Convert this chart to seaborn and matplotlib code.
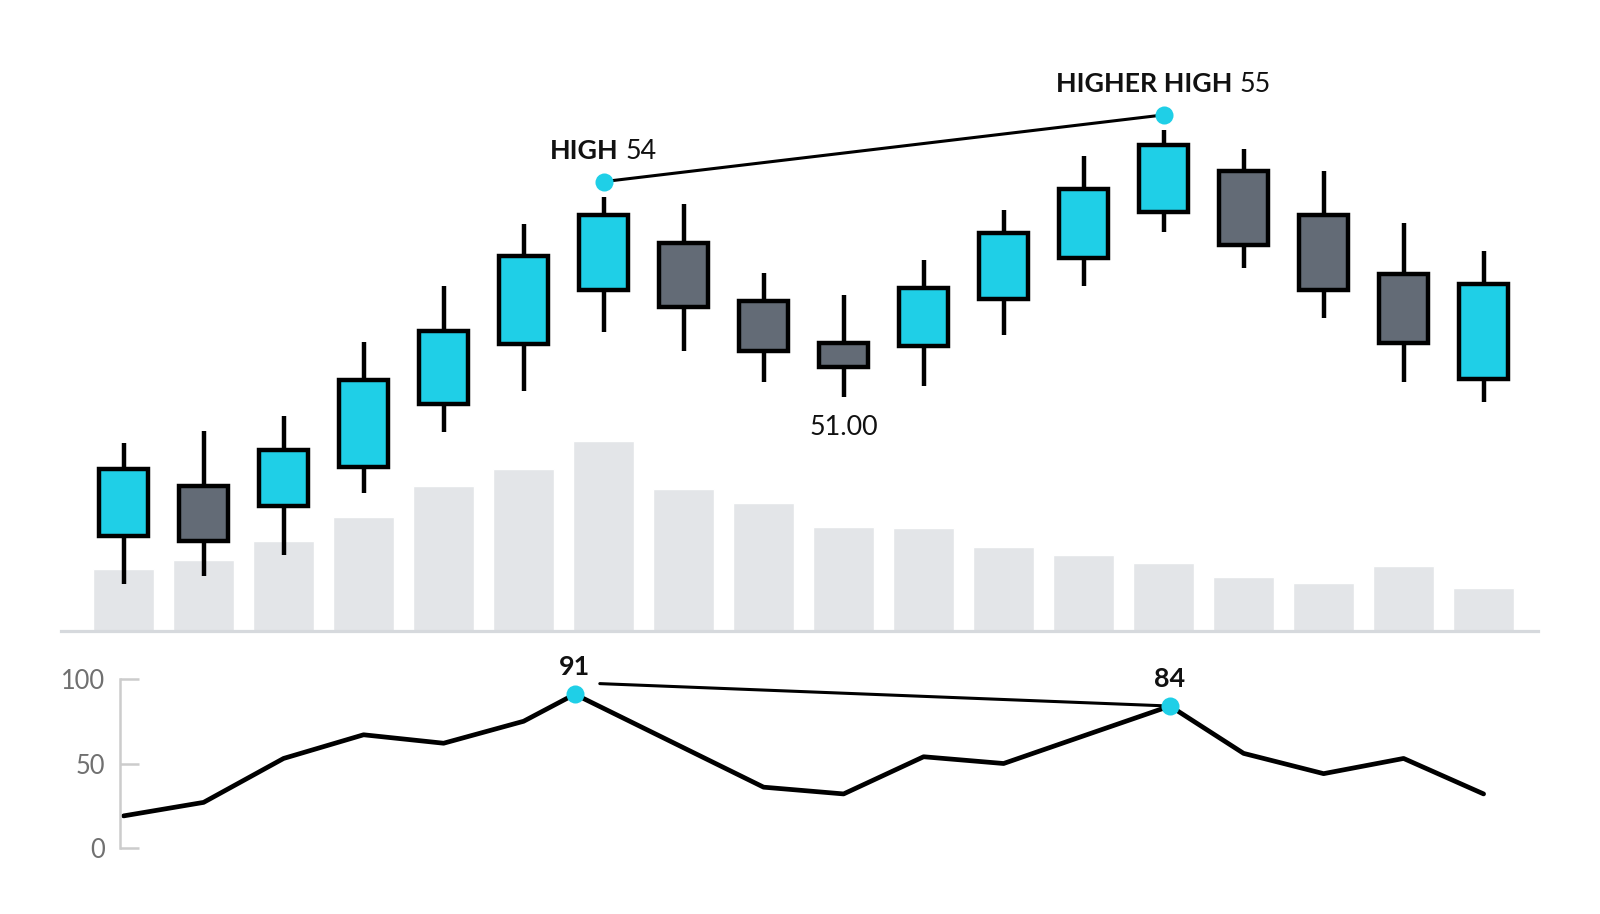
import matplotlib
matplotlib.use("Agg")
import matplotlib.pyplot as plt
from matplotlib.transforms import ScaledTranslation
import numpy as np
import seaborn as sns

# ---------------- data ----------------
candle_idx = list(range(18))
opens  = [48.92, 49.66, 49.36, 49.95, 50.89, 51.79, 52.60, 53.30, 52.44, 51.80,
          51.76, 52.47, 53.08, 53.77, 54.38, 53.73, 52.84, 51.27]
closes = [49.92, 48.84, 50.21, 51.25, 51.98, 53.11, 53.73, 52.34, 51.68, 51.44,
          52.63, 53.45, 54.12, 54.78, 53.28, 52.60, 51.80, 52.69]
highs  = [50.31, 50.49, 50.72, 51.82, 52.66, 53.59, 54.00, 53.89, 52.85, 52.53,
          53.05, 53.80, 54.61, 55.00, 54.72, 54.38, 53.60, 53.19]
lows   = [48.20, 48.31, 48.63, 49.56, 50.47, 51.08, 51.97, 51.69, 51.22, 51.00,
          51.16, 51.92, 52.66, 53.47, 52.93, 52.18, 51.22, 50.92]
volume = [61, 69, 88, 112, 142, 159, 186, 139, 125, 102, 101, 82, 74, 66, 53, 47, 63, 42]

rsi_x    = [0, 1, 2, 3, 4, 5, 5.64, 8, 9, 10, 11, 12.1, 13.08, 14, 15, 16, 17]
rsi_vals = [19, 27, 53, 67, 62, 75, 91, 36, 32, 54, 50, 68, 84, 56, 44, 53, 32]

high_points = [6, 13]          # candle indices of the two highs
high_labels = ["HIGH", "HIGHER HIGH"]
low_point = 9                  # candle index of the marked low
rsi_peaks = [6, 12]            # indices into rsi arrays
rsi_ticks = [0, 50, 100]

# ---------------- style ----------------
CYAN = "#1FCFE7"
GRAY = "#636B76"
VOL = "#E3E5E8"
BASE = "#D6D9DD"
AXC = "#CCCCCC"

sns.set_theme(style="white")
plt.rcParams["font.family"] = ["Lato", "DejaVu Sans"]

DPI = 100
fig = plt.figure(figsize=(16, 9.14), dpi=DPI)
fig.patch.set_facecolor("white")
L, W = 0.03825, 0.923
XLIM = (-0.78, 17.68)

ax_vol = fig.add_axes([L, 0.3100, W, 0.6454])
sns.barplot(x=candle_idx, y=volume, ax=ax_vol, color=VOL, saturation=1,
            width=0.765, errorbar=None)
ax_vol.set_xlim(XLIM)
ax_vol.set_ylim(0, 579)
ax_vol.set_xticks([]); ax_vol.set_yticks([])
ax_vol.set_xlabel(""); ax_vol.set_ylabel("")
for s in ["left", "right", "top"]:
    ax_vol.spines[s].set_visible(False)
ax_vol.spines["bottom"].set_color(BASE)
ax_vol.spines["bottom"].set_linewidth(2.3)

ax_px = ax_vol.twinx()
ax_px.set_xlim(XLIM)
ax_px.set_ylim(47.496, 56.336)
for s in ax_px.spines.values():
    s.set_visible(False)
ax_px.set_yticks([]); ax_px.set_xticks([])

o = np.array(opens); c = np.array(closes)
cols = [CYAN if cc >= oo else GRAY for oo, cc in zip(opens, closes)]
ax_px.vlines(candle_idx, lows, highs, color="black", lw=3.2, zorder=2)
ax_px.bar(candle_idx, np.abs(c - o), bottom=np.minimum(o, c), width=0.615,
          color=cols, edgecolor="black", linewidth=3.2, zorder=3)

# highs markers and connecting line
mark_tr = ax_px.transData + ScaledTranslation(0, 15 / DPI, fig.dpi_scale_trans)
hx = high_points
hy = [highs[i] for i in high_points]
ax_px.plot(hx, hy, color="black", lw=2.2, transform=mark_tr, zorder=4, clip_on=False)
ax_px.plot(hx, hy, "o", ms=13, color=CYAN, mec="none", transform=mark_tr,
           zorder=5, clip_on=False)

FS = 19.4

def two_part(ax, x, y, bold, regular, dy):
    t1 = ax.annotate(bold, (x, y), xytext=(0, dy), textcoords="offset pixels",
                     ha="left", va="baseline", fontsize=FS, fontweight="bold",
                     color="#111111", annotation_clip=False, zorder=6)
    t2 = ax.annotate(regular, (x, y), xytext=(0, dy), textcoords="offset pixels",
                     ha="left", va="baseline", fontsize=FS, color="#111111",
                     annotation_clip=False, zorder=6)
    fig.canvas.draw()
    r = fig.canvas.get_renderer()
    w1 = t1.get_window_extent(r).width
    w2 = t2.get_window_extent(r).width
    gap = 0.26 * FS * DPI / 72
    tot = w1 + gap + w2
    t1.xyann = (-tot / 2, dy)
    t2.xyann = (-tot / 2 + w1 + gap, dy)

for lab, i in zip(high_labels, high_points):
    two_part(ax_px, i, highs[i], lab, f"{highs[i]:.0f}", 37.5)

ax_px.annotate(f"{lows[low_point]:.2f}", (low_point, lows[low_point]), xytext=(0, -38),
               textcoords="offset pixels", ha="center", va="baseline",
               fontsize=FS, color="#111111", annotation_clip=False)

# ---------------- oscillator ----------------
ax_rsi = fig.add_axes([L, 0.0722, W, 0.1849])
sns.lineplot(x=rsi_x, y=rsi_vals, ax=ax_rsi, color="black", lw=3.4, sort=False)
ax_rsi.set_xlim(XLIM)
ax_rsi.set_ylim(0, 100)
ax_rsi.set_xlabel(""); ax_rsi.set_ylabel("")
ax_rsi.set_xticks([])
ax_rsi.set_yticks(rsi_ticks)
for s in ["right", "top", "bottom"]:
    ax_rsi.spines[s].set_visible(False)
ax_rsi.spines["left"].set_position(("data", -0.044))
ax_rsi.spines["left"].set_bounds(0, 100)
ax_rsi.spines["left"].set_color(AXC)
ax_rsi.spines["left"].set_linewidth(1.8)
ax_rsi.tick_params(axis="y", direction="in", length=13.7, width=1.8, color=AXC,
                   pad=10.8, labelsize=18.4, labelcolor="#707070", left=True)

px = [rsi_x[i] for i in rsi_peaks]
py = [rsi_vals[i] for i in rsi_peaks]
fig.canvas.draw()
d1 = ax_rsi.transData.transform((px[0], py[0])) + np.array([25, 10.6])
s1 = ax_rsi.transData.inverted().transform(d1)
ax_rsi.plot([s1[0], px[1]], [s1[1], py[1]], color="black", lw=2.2, zorder=4,
            clip_on=False)
ax_rsi.plot(px, py, "o", ms=13, color=CYAN, mec="none", zorder=5, clip_on=False)
for xx, yy in zip(px, py):
    ax_rsi.annotate(f"{yy:.0f}", (xx, yy), xytext=(0, 19.3), textcoords="offset pixels",
                    ha="center", va="baseline", fontsize=FS, fontweight="bold",
                    color="#111111", annotation_clip=False)

fig.savefig("out.png", dpi=DPI, facecolor="white")
